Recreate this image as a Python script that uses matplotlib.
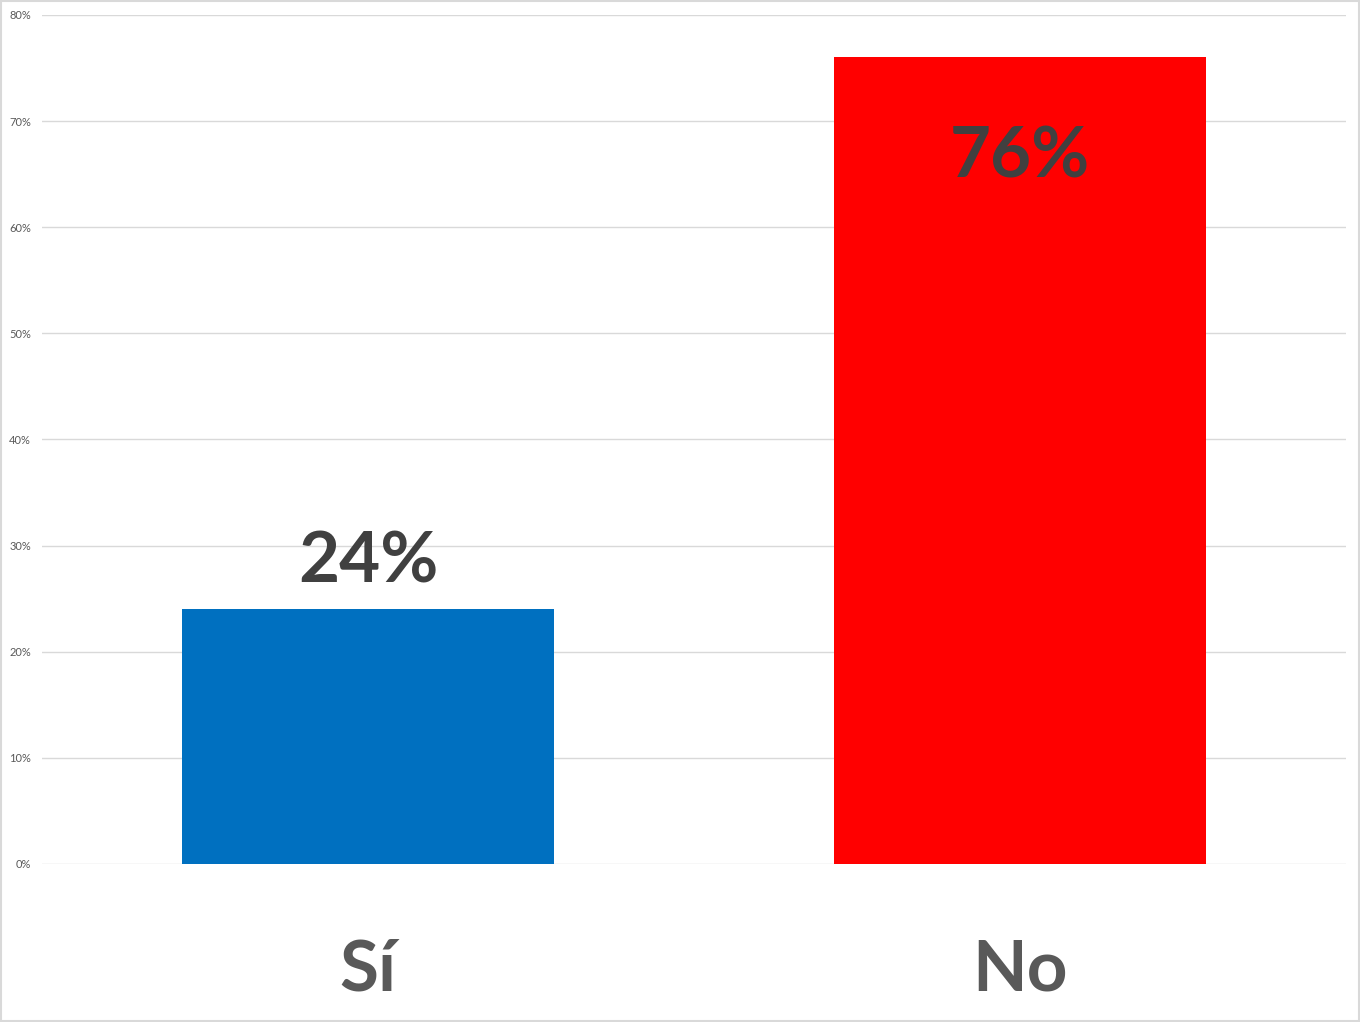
import matplotlib.pyplot as plt
from matplotlib.ticker import PercentFormatter
from matplotlib.patches import Rectangle

categories = ["Sí", "No"]
values = [0.24, 0.76]
labels = ["24%", "76%"]
colors = ["#0070C0", "#FF0000"]
yticks = [0, 0.1, 0.2, 0.3, 0.4, 0.5, 0.6, 0.7, 0.8]

plt.rcParams['font.family'] = ['Lato', 'DejaVu Sans']

fig = plt.figure(figsize=(13.6, 10.22), dpi=100)
ax = fig.add_axes([42 / 1360, 1 - 864 / 1022, 1304 / 1360, (864 - 15) / 1022])

x = range(len(categories))
ax.bar(x, values, width=0.572, color=colors, zorder=2)
ax.set_xlim(-0.5, 1.5)
ax.set_ylim(0, 0.8)
ax.set_yticks(yticks)
ax.yaxis.set_major_formatter(PercentFormatter(1.0, decimals=0))
ax.tick_params(axis='y', length=0, labelsize=8, labelcolor='#595959', pad=8)
ax.set_xticks([])
ax.grid(axis='y', color='#d9d9d9', linewidth=1, zorder=0)
for s in ax.spines.values():
    s.set_visible(False)

# data labels: first above bar, second inside top
ax.text(0, values[0] + 0.045, labels[0], ha='center', va='center',
        fontsize=51, fontweight='bold', color='#404040')
ax.text(1, values[1] - 0.094, labels[1], ha='center', va='center',
        fontsize=51, fontweight='bold', color='#404040')

# category labels below axis
for i, c in enumerate(categories):
    ax.text(i, -0.1, c, ha='center', va='center', fontsize=51,
            fontweight='bold', color='#595959', clip_on=False)

fig.patches.append(Rectangle((0.0005, 0.0005), 0.999, 0.999, transform=fig.transFigure,
                             fill=False, edgecolor='#d9d9d9', linewidth=1.5))

fig.savefig("out.png", dpi=100)
